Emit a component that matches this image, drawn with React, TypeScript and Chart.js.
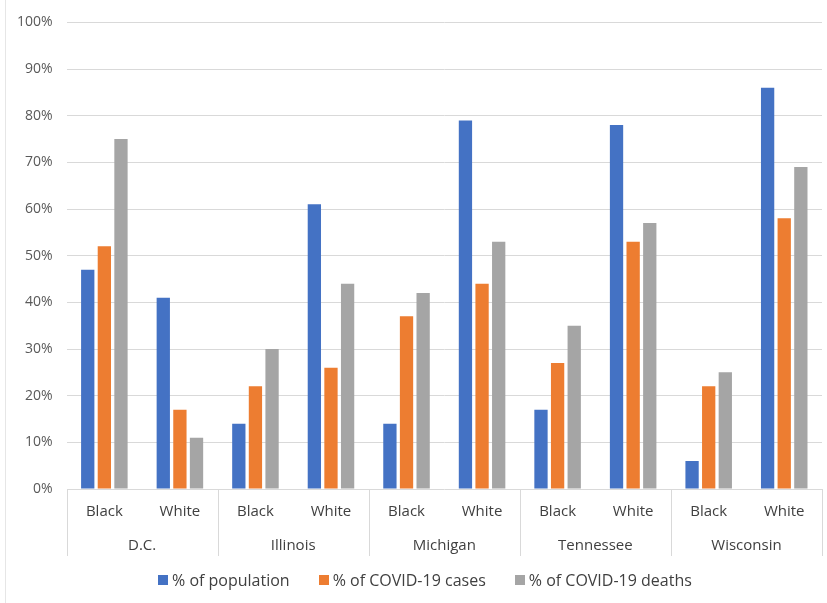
import React, { useEffect, useRef } from "react";
import { Chart, registerables } from "chart.js";

Chart.register(...registerables);

const groups = ["D.C.", "Illinois", "Michigan", "Tennessee", "Wisconsin"];
const races = ["Black", "White", "Black", "White", "Black", "White", "Black", "White", "Black", "White"];
const seriesNames = ["% of population", "% of COVID-19 cases", "% of COVID-19 deaths"];
const seriesColors = ["#4472C4", "#ED7D31", "#A5A5A5"];
const population = [47, 41, 14, 61, 14, 79, 17, 78, 6, 86];
const cases = [52, 17, 22, 26, 37, 44, 27, 53, 22, 58];
const deaths = [75, 11, 30, 44, 42, 53, 35, 57, 25, 69];
const yTicks = [0, 10, 20, 30, 40, 50, 60, 70, 80, 90, 100];

const FONT = "'Open Sans', sans-serif";

const separatorPlugin = {
  id: "groupSeparators",
  afterDraw(chart: any) {
    const x2 = chart.scales.x2;
    if (!x2) return;
    const ctx = chart.ctx;
    const n = groups.length;
    const w = (x2.right - x2.left) / n;
    ctx.save();
    ctx.strokeStyle = "#d9d9d9";
    ctx.lineWidth = 1;
    for (let i = 0; i <= n; i++) {
      const px = Math.round(x2.left + i * w) + 0.5;
      ctx.beginPath();
      ctx.moveTo(px, chart.chartArea.bottom);
      ctx.lineTo(px, chart.chartArea.bottom + 67);
      ctx.stroke();
    }
    ctx.restore();
  },
};

export default function App() {
  const ref = useRef<HTMLCanvasElement>(null);
  useEffect(() => {
    if (!ref.current) return;
    const values = [population, cases, deaths];
    const chart = new Chart(ref.current, {
      type: "bar",
      data: {
        labels: races,
        datasets: seriesNames.map((name, i) => ({
          label: name,
          data: values[i],
          backgroundColor: seriesColors[i],
        })),
      },
      options: {
        animation: false,
        responsive: false,
        maintainAspectRatio: false,
        datasets: { bar: { barPercentage: 0.8, categoryPercentage: 0.66 } } as any,
        layout: { padding: { left: 3, right: 5, top: 13, bottom: 46 } },
        plugins: {
          legend: { display: false },
          tooltip: { enabled: false },
        },
        scales: {
          y: {
            min: 0,
            max: 100,
            afterBuildTicks: (s: any) => {
              s.ticks = yTicks.map((v) => ({ value: v }));
            },
            ticks: {
              callback: (v: any) => v + "%",
              color: "#595959",
              font: { family: FONT, size: 14 },
              padding: 14,
            },
            grid: { color: "#d9d9d9", drawTicks: false },
            border: { display: false },
          },
          x: {
            grid: { display: false, drawTicks: false },
            border: { display: false },
            ticks: {
              color: "#404040",
              font: { family: FONT, size: 15 },
              padding: 14,
              maxRotation: 0,
              autoSkip: false,
            },
          },
          x2: {
            type: "category",
            labels: groups,
            position: "bottom",
            offset: true,
            grid: { display: false, drawTicks: false },
            border: { display: false },
            ticks: {
              color: "#404040",
              font: { family: FONT, size: 15 },
              padding: 2,
              maxRotation: 0,
              autoSkip: false,
            },
          },
        } as any,
      },
      plugins: [separatorPlugin],
    });
    return () => chart.destroy();
  }, []);
  return (
    <div
      style={{
        position: "absolute",
        left: 0,
        top: 0,
        width: 827,
        height: 603,
        background: "#fff",
        overflow: "hidden",
      }}
    >
      <div
        style={{
          position: "absolute",
          left: 5,
          top: 0,
          width: 1,
          height: 603,
          background: "#e6e6e6",
        }}
      />
      <canvas ref={ref} width={827} height={603} style={{ position: "absolute", left: 0, top: 0 }} />
      <div
        style={{
          position: "absolute",
          left: 158,
          top: 570,
          display: "flex",
          alignItems: "center",
          fontFamily: FONT,
          fontSize: 16,
          color: "#404040",
          whiteSpace: "nowrap",
          lineHeight: "20px",
        }}
      >
        {seriesNames.map((name, i) => (
          <div key={name} style={{ display: "flex", alignItems: "center", marginRight: 29 }}>
            <span
              style={{
                display: "inline-block",
                width: 10,
                height: 10,
                background: seriesColors[i],
                marginRight: 4,
              }}
            />
            <span>{name}</span>
          </div>
        ))}
      </div>
    </div>
  );
}
